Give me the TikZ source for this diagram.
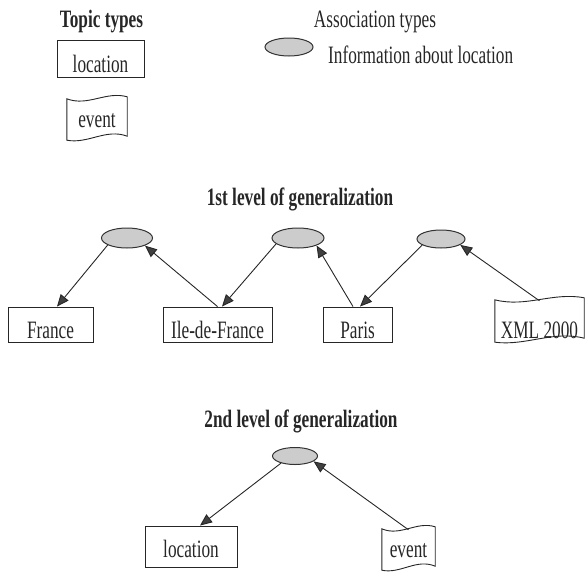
\documentclass[tikz,border=0pt]{standalone}
\usepackage{fontspec}
\setmainfont{Liberation Serif}[FakeStretch=0.69]
\usetikzlibrary{calc,arrows.meta,shapes.geometric}
\tikzset{
  txt/.style={font=\fontsize{25pt}{29pt}\selectfont, text=black!85, inner sep=0pt},
  title/.style={txt, font=\fontsize{25pt}{29pt}\selectfont\bfseries},
  box/.style={txt, draw=black!85, line width=0.9pt, rectangle, text depth=0pt},
  flagnode/.style={txt, rectangle, text depth=0pt},
  assoc/.style={ellipse, draw=black!80, line width=1pt, fill=gray!40, inner sep=0pt},
  arr/.style={draw=black!85, line width=0.9pt, -{Triangle[length=12pt,width=10pt,fill=black!75]}},
}
\newcommand\wavyflag[1]{%
  \draw[black!85, line width=0.9pt] let \p1=(#1.north west), \p2=(#1.south east) in
    (\x1,{\y1-2pt}) .. controls ({\x1+0.35*(\x2-\x1)},{\y1-10pt}) and ({\x1+0.65*(\x2-\x1)},{\y1+6pt}) .. (\x2,\y1)
    -- (\x2,{\y2+4pt}) .. controls ({\x2-0.35*(\x2-\x1)},{\y2+12pt}) and ({\x2-0.65*(\x2-\x1)},{\y2-4pt}) .. (\x1,\y2)
    -- cycle;}
\begin{document}
\begin{tikzpicture}[x=1pt,y=-1pt]
\useasboundingbox (0,0) rectangle (585,571);
% legend
\node[title, anchor=base] (tt) at (101.5,27) {Topic types};
\node[box, minimum width=87pt, minimum height=37pt, text height=27pt] (loc1) at (100.5,58.5) {location};
\node[flagnode, minimum width=60pt, minimum height=43pt, text height=17pt] (ev1) at (97,118.5) {event};
\wavyflag{ev1}
\node[txt, anchor=base] (at) at (375,27) {Association types};
\node[assoc, minimum width=48pt, minimum height=18pt] (el) at (289,47) {};
\node[txt, anchor=base west] (info) at (328,63) {Information about location};
% level 1
\node[title, anchor=base] (l1) at (300,205) {1st level of generalization};
\node[assoc, minimum width=51pt, minimum height=20pt] (e1) at (127,238) {};
\node[assoc, minimum width=52pt, minimum height=20pt] (e2) at (298,238) {};
\node[assoc, minimum width=48pt, minimum height=18pt] (e3) at (441,239) {};
\node[box, minimum width=85pt, minimum height=35pt, text height=27pt] (fr) at (50.5,324.5) {France};
\node[box, minimum width=109pt, minimum height=35pt, text height=27pt] (idf) at (217.5,324.5) {Ile-de-France};
\node[box, minimum width=69pt, minimum height=35pt, text height=27pt] (pa) at (357.5,324.5) {Paris};
\node[flagnode, minimum width=89pt, minimum height=44pt, text height=36pt] (xml) at (539.5,320) {XML 2000};
\wavyflag{xml}
\draw[arr] (e1.200) -- ($(fr.north)+(6.5,0)$);
\draw[arr] (idf.north) -- (e1.337);
\draw[arr] (e2.195) -- ($(idf.north)+(4.5,0)$);
\draw[arr] ($(pa.north)+(-4.5,0)$) -- (e2.338);
\draw[arr] (e3.198) -- ($(pa.north)+(2.5,0)$);
\draw[arr] ($(xml.north)+(0,3)$) -- (e3.343);
% level 2
\node[title, anchor=base] (l2) at (301,427) {2nd level of generalization};
\node[assoc, minimum width=45pt, minimum height=17pt] (e4) at (295,456) {};
\node[box, minimum width=92pt, minimum height=41pt, text height=21pt] (loc2) at (191,546.5) {location};
\node[flagnode, minimum width=53pt, minimum height=43pt, text height=17pt] (ev2) at (408.5,548.5) {event};
\wavyflag{ev2}
\draw[arr] (e4.207) -- ($(loc2.north)+(9,0)$);
\draw[arr] ($(ev2.north)+(0,3)$) -- (e4.344);
\end{tikzpicture}
\end{document}
